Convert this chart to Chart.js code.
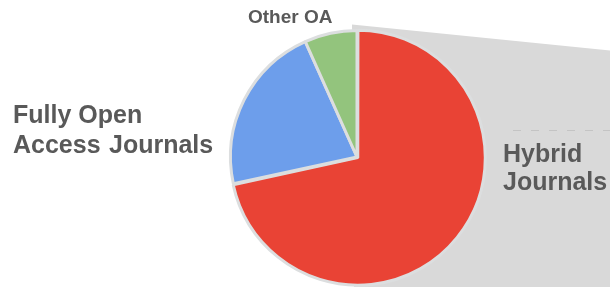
<!DOCTYPE html>
<html>
<head>
<meta charset="utf-8">
<script src="https://cdn.jsdelivr.net/npm/chart.js@4"></script>
<style>
  html, body { margin: 0; padding: 0; background: #fff; }
  #wrap { width: 610px; height: 287px; position: relative; }
</style>
</head>
<body>
<div id="wrap"><canvas id="pie"></canvas></div>
<script>
// Share of articles by journal type (%)
const categories = ['Hybrid Journals', 'Fully Open Access Journals', 'Other OA'];
const shares = [71.6, 21.7, 6.7];
const sliceColors = ['#e94335', '#6d9eeb', '#93c47d'];

// Grey "callout" wedge behind the pie, plus the hand-placed labels
const decorations = {
  id: 'decorations',
  beforeDatasetsDraw(chart) {
    const ctx = chart.ctx;
    const arc = chart.getDatasetMeta(0).data[0];
    const cx = arc.x - 3, cy = arc.y - 3, r = arc.outerRadius;
    const W = chart.width, H = chart.height;
    ctx.save();
    ctx.fillStyle = '#d9d9d9';
    ctx.beginPath();
    ctx.moveTo(cx - 2, cy - r - 3);
    ctx.lineTo(W, cy - r + 23);
    ctx.lineTo(W, H);
    ctx.lineTo(cx, H);
    ctx.closePath();
    ctx.fill();
    // faint dashed guide on the right
    ctx.strokeStyle = '#c4c4c4';
    ctx.lineWidth = 1;
    ctx.setLineDash([8, 10]);
    ctx.beginPath();
    ctx.moveTo(513, 130.5);
    ctx.lineTo(W, 130.5);
    ctx.stroke();
    ctx.restore();
  },
  afterDraw(chart) {
    const ctx = chart.ctx;
    ctx.save();
    ctx.fillStyle = '#595959';
    ctx.textBaseline = 'alphabetic';
    ctx.textAlign = 'left';
    ctx.font = 'bold 25px "Liberation Sans", Arial, sans-serif';
    ctx.fillText('Fully Open', 13, 123);
    ctx.fillText('Access', 13, 153);
    ctx.fillText('Journals', 109, 153);
    ctx.fillText('Hybrid', 503, 162);
    ctx.fillText('Journals', 503, 190);
    ctx.font = 'bold 19px "Liberation Sans", Arial, sans-serif';
    ctx.fillText('Other OA', 248, 23);
    ctx.restore();
  }
};

const chartConfig = {
  type: 'pie',
  data: {
    labels: categories,
    datasets: [{
      data: shares,
      backgroundColor: sliceColors,
      borderColor: '#dcdedf',
      borderWidth: 3,
      offset: [4, 0, 0]
    }]
  },
  options: {
    responsive: false,
    animation: false,
    layout: { padding: { left: 227, right: 123, top: 27, bottom: 0 } },
    plugins: {
      legend: { display: false },
      tooltip: { enabled: false }
    }
  },
  plugins: [decorations]
};

const canvas = document.getElementById('pie');
canvas.width = 610;
canvas.height = 287;
const pieChart = new Chart(canvas.getContext('2d'), chartConfig);
</script>
</body>
</html>
